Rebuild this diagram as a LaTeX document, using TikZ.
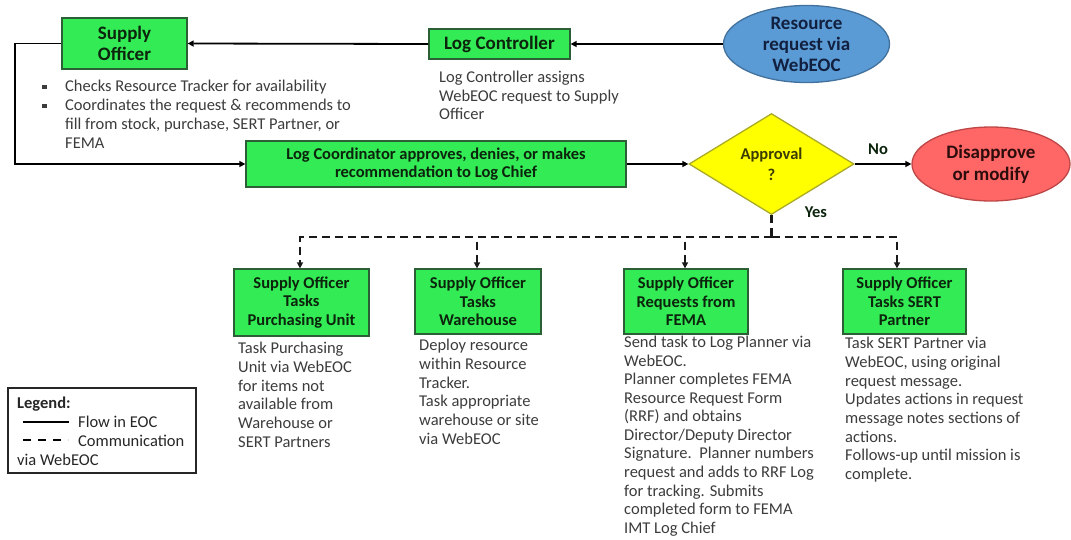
\documentclass[tikz,border=0pt]{standalone}
\usepackage{fontspec}
\setmainfont{Carlito}
\usetikzlibrary{shapes.geometric,arrows.meta}
\definecolor{boxgreen}{RGB}{51,235,85}
\definecolor{boxedge}{RGB}{45,95,55}
\definecolor{titletext}{RGB}{12,35,12}
\definecolor{desctext}{RGB}{60,60,60}
\definecolor{bluefill}{RGB}{91,155,213}
\definecolor{blueedge}{RGB}{65,113,156}
\definecolor{bluetext}{RGB}{18,32,64}
\definecolor{redfill}{RGB}{255,102,102}
\definecolor{rededge}{RGB}{190,70,70}
\definecolor{redtext}{RGB}{45,12,12}
\definecolor{yelfill}{RGB}{255,255,0}
\definecolor{yeledge}{RGB}{170,170,40}
\definecolor{yeltext}{RGB}{60,60,0}
\newcommand\fsz[2]{\fontsize{#1}{#2}\selectfont}
\begin{document}
\begin{tikzpicture}[x=1pt,y=-1pt,
  gbox/.style={draw=boxedge, fill=boxgreen, line width=1.3pt, inner sep=0pt, align=center,
    text=titletext, font=\bfseries\fsz{16.5}{18.5}},
  desc/.style={anchor=north west, inner sep=0pt, align=left, text=desctext, font=\fsz{16.5}{18.7}},
  lbl/.style={inner sep=0pt, text=titletext, font=\bfseries\fsz{16.5}{19}},
  flow/.style={line width=1.8pt, draw=black, -{Triangle[length=6pt,width=6pt]}},
  comm/.style={line width=2.2pt, draw=black!90, dash pattern=on 8pt off 5pt, -{Triangle[length=6pt,width=6pt]}}]
\useasboundingbox (0,0) rectangle (1071,539);

% top row
\node[gbox, font=\bfseries\fsz{19}{20.5}, minimum width=125pt, minimum height=51pt] (so) at (124.5,43.5) {Supply\\Officer};
\node[gbox, font=\bfseries\fsz{19}{21}, minimum width=141pt, minimum height=30pt] (lc) at (499.5,44) {Log Controller};
\node[ellipse, draw=blueedge, fill=bluefill, line width=1.3pt, inner sep=0pt, minimum width=166pt, minimum height=77pt,
  align=center, text=bluetext, font=\bfseries\fsz{19}{21}] (rr) at (806.5,44) {Resource\\request via\\WebEOC};

\node[desc, font=\fsz{16.5}{18.5}] (lcd) at (439,71) {Log Controller assigns\\WebEOC request to Supply\\Officer};
\node[desc, font=\fsz{16.5}{19}] (bul) at (42,80) {\makebox[23pt][l]{\rule[2.5pt]{4.5pt}{4.5pt}}Checks Resource Tracker for availability\\
  \makebox[23pt][l]{\rule[2.5pt]{4.5pt}{4.5pt}}Coordinates the request \& recommends to\\
  \hspace*{23pt}fill from stock, purchase, SERT Partner, or\\
  \hspace*{23pt}FEMA};

% second row
\node[gbox, minimum width=380pt, minimum height=46pt, font=\bfseries\fsz{16.5}{18}] (lco) at (436,164)
  {Log Coordinator approves, denies, or makes\\recommendation to Log Chief};
\node[diamond, draw=yeledge, fill=yelfill, line width=1.3pt, inner sep=0pt, aspect=1.63,
  minimum width=165pt, minimum height=101pt, align=center, text=yeltext, font=\bfseries\fsz{16.5}{21}] (ap) at (771.5,164) {Approval\\?};
\node[ellipse, draw=rededge, fill=redfill, line width=1.3pt, inner sep=0pt, minimum width=158pt, minimum height=74pt,
  align=center, text=redtext, font=\bfseries\fsz{19}{22}] (dm) at (991,164) {Disapprove\\or modify};
\node[lbl] (no) at (878,149) {No};
\node[lbl] (yes) at (816,212) {Yes};

% bottom boxes
\node[gbox, minimum width=135pt, minimum height=67pt] (b1) at (301.5,302.5) {Supply Officer\\Tasks\\Purchasing Unit};
\node[gbox, minimum width=126pt, minimum height=65pt] (b2) at (478,301.5) {Supply Officer\\Tasks\\Warehouse};
\node[gbox, minimum width=124pt, minimum height=65pt] (b3) at (686,301.5) {Supply Officer\\Requests from\\FEMA};
\node[gbox, minimum width=123pt, minimum height=65pt] (b4) at (904.5,301.5) {Supply Officer\\Tasks SERT\\Partner};

\node[desc] (d1) at (238,342) {Task Purchasing\\Unit via WebEOC\\for items not\\available from\\Warehouse or\\SERT Partners};
\node[desc] (d2) at (419,339) {Deploy resource\\within Resource\\Tracker.\\Task appropriate\\warehouse or site\\via WebEOC};
\node[desc, font=\fsz{16.5}{18.55}] (d3) at (624,336) {Send task to Log Planner via\\WebEOC.\\Planner completes FEMA\\Resource Request Form\\(RRF) and obtains\\Director/Deputy Director\\Signature.\ \ Planner numbers\\request and adds to RRF Log\\for tracking. Submits\\completed form to FEMA\\IMT Log Chief};
\node[desc] (d4) at (845,337) {Task SERT Partner via\\WebEOC, using original\\request message.\\Updates actions in request\\message notes sections of\\actions.\\Follows-up until mission is\\complete.};

% solid flow
\coordinate (c1) at (15,43.5);
\draw[flow] (rr.west) -- (lc.east);
\draw[flow] (lc.west) -- (so.east);
\draw[flow] (so.west) -- (c1) |- (lco.west);
\draw[flow] (lco.east) -- (ap.west);
\draw[flow] (ap.east) -- (dm.west);

% dashed communication
\coordinate (j) at (771.5,237);
\draw[comm, -] (ap.south) -- (j);
\draw[comm] (j) -| ([xshift=-1.5pt]b1.north);
\draw[comm] (j) -| ([xshift=-1pt]b2.north);
\draw[comm] (j) -| ([xshift=-1pt]b3.north);
\draw[comm] (j) -| ([xshift=-7.5pt]b4.north);

% legend
\node[draw=black!85, line width=1.5pt, minimum width=188pt, minimum height=85pt, inner sep=0pt] (lg) at (102,430.5) {};
\node[desc, text=black!85, font=\fsz{16.5}{19}] (lgt) at (17,397) {\textbf{Legend:}\\\hspace*{61pt}Flow in EOC\\\hspace*{61pt}Communication\\via WebEOC};
\coordinate (l1a) at (23,422); \coordinate (l1b) at (69,422);
\coordinate (l2a) at (23,440); \coordinate (l2b) at (68,440);
\draw[line width=2pt] (l1a) -- (l1b);
\draw[line width=2.2pt, dash pattern=on 8pt off 7pt] (l2a) -- (l2b);
\end{tikzpicture}
\end{document}
